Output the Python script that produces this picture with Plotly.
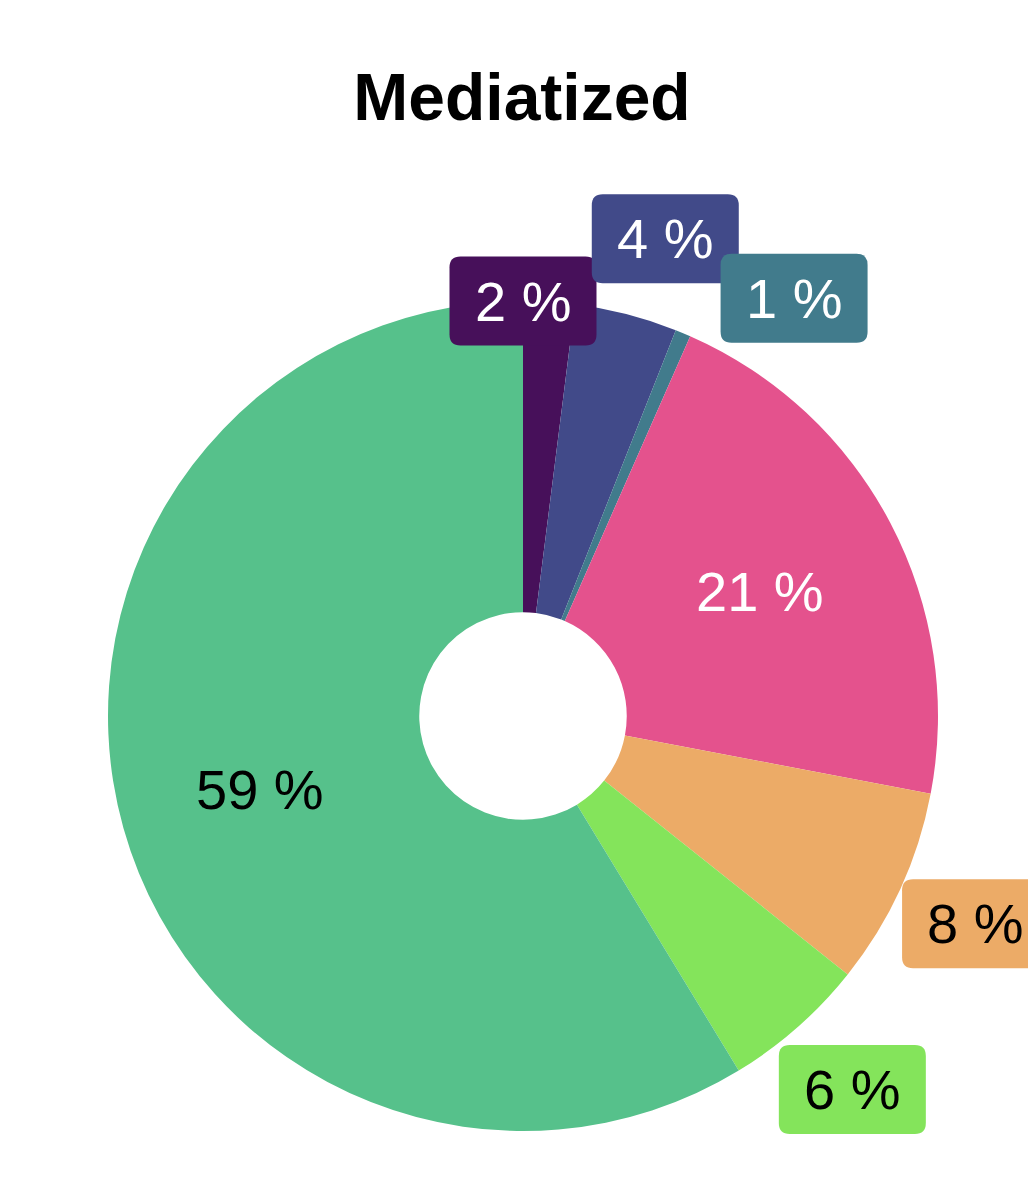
import math
import plotly.graph_objects as go

# slice shares (%), clockwise from 12 o'clock
slices = ["s1", "s2", "s3", "s4", "s5", "s6", "s7"]
shares = [2.0, 4.0, 0.6, 21.4, 7.7, 5.6, 58.7]
colors = ["#47105a", "#414a89", "#417b8c", "#e4528d", "#ecab67", "#84e45b", "#56c18b"]
text_colors = ["white", "white", "white", "white", "black", "black", "black"]
boxed = [True, True, True, False, True, True, False]

title = "Mediatized"

W, H = 1036, 1192
OFF = 8  # page body margin
cx, cy, R = 523 - OFF, 716 - OFF, 415  # pie centre / radius in px

# label placement: radius as fraction of R, extra angle (deg) for repelled labels
lab_r = [1.0, 1.2, 1.2, 0.645, 1.2, 1.2, 0.658]
lab_da = [-3.6, 2.2, 10.3, 0.0, 0.0, 0.0, 0.0]
box_w, box_h, rad = 147, 89, 11

fig = go.Figure(go.Pie(
    labels=slices,
    values=shares,
    sort=False,
    direction="clockwise",
    hole=0.25,
    marker=dict(colors=colors, line=dict(width=0)),
    textinfo="none",
    showlegend=False,
    domain=dict(x=[(cx - R) / W, (cx + R) / W],
                y=[(H - cy - R) / H, (H - cy + R) / H]),
))


def rounded_box(x0, y0, x1, y1, r):
    # px coords (y down) -> paper path with rounded corners
    def p(x, y):
        return f"{x / W:.5f},{1 - y / H:.5f}"
    return (f"M {p(x0 + r, y0)} L {p(x1 - r, y0)} Q {p(x1, y0)} {p(x1, y0 + r)} "
            f"L {p(x1, y1 - r)} Q {p(x1, y1)} {p(x1 - r, y1)} "
            f"L {p(x0 + r, y1)} Q {p(x0, y1)} {p(x0, y1 - r)} "
            f"L {p(x0, y0 + r)} Q {p(x0, y0)} {p(x0 + r, y0)} Z")


total = sum(shares)
cum = 0
for v, c, tc, b, rf, da in zip(shares, colors, text_colors, boxed, lab_r, lab_da):
    mid = (cum + v / 2) / total * 360 + da
    cum += v
    px_ = cx + rf * R * math.sin(math.radians(mid))
    py_ = cy - rf * R * math.cos(math.radians(mid))
    if b:
        fig.add_shape(type="path", xref="paper", yref="paper", layer="above",
                      path=rounded_box(px_ - box_w / 2, py_ - box_h / 2,
                                       px_ + box_w / 2, py_ + box_h / 2, rad),
                      fillcolor=c, line=dict(width=0))
    fig.add_annotation(
        x=px_ / W, y=1 - py_ / H, xref="paper", yref="paper",
        text=f"{round(v)} %", showarrow=False,
        font=dict(family="Liberation Sans, Arial", size=56, color=tc),
        xanchor="center", yanchor="middle",
    )

fig.update_layout(
    width=W, height=H,
    margin=dict(l=0, r=0, t=0, b=0),
    paper_bgcolor="white",
    plot_bgcolor="white",
    title=dict(text="<b>" + title + "</b>", x=(522 - OFF) / W, xanchor="center",
               y=1 - (97 - OFF) / H, yanchor="middle",
               font=dict(family="Liberation Sans, Arial", size=66, color="black")),
)

fig.write_html("out.html")
